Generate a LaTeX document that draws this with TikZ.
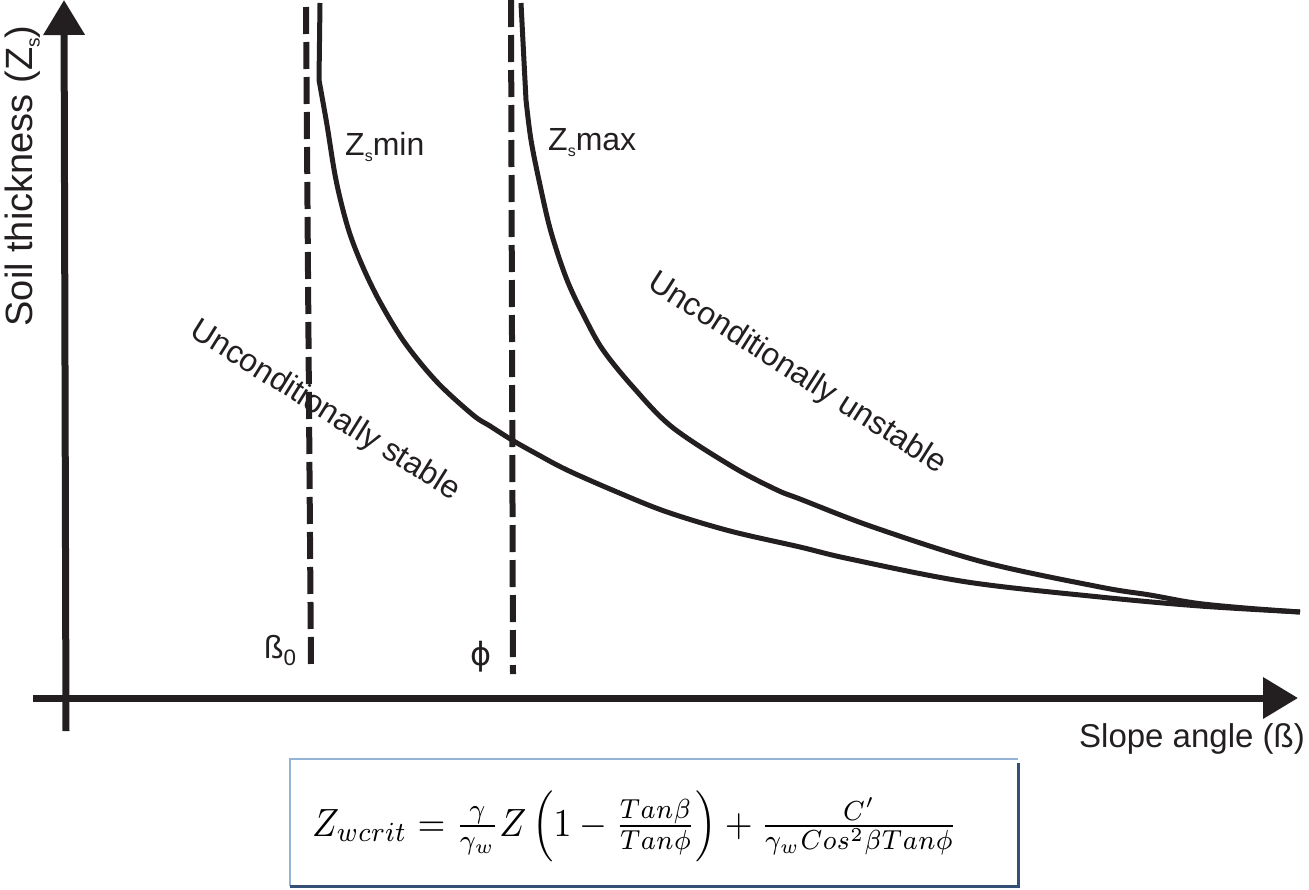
\documentclass[tikz,border=0pt]{standalone}
\usepackage{fontspec}
\setmainfont{Liberation Sans}
\newfontfamily\dvsans{DejaVu Sans}
\usepackage{amsmath}
\usepackage{graphicx}
\usetikzlibrary{arrows.meta}
\definecolor{ink}{RGB}{35,31,32}
\definecolor{boxlight}{RGB}{149,179,215}
\definecolor{boxdark}{RGB}{52,80,118}
\newcommand{\lowsub}[1]{\raisebox{-0.2em}{\scalebox{0.5}{#1}}}
\begin{document}
\begin{tikzpicture}[x=1pt,y=-1pt,
  axis/.style={line width=7pt, draw=ink, -{Triangle[length=35pt,width=40pt]}},
  limitline/.style={line width=6pt, draw=ink, dash pattern=on 27pt off 8pt},
  curveline/.style={line width=5pt, draw=ink, line join=round},
  lbl/.style={font=\fontsize{32}{38}\selectfont, inner sep=0pt, text=ink},
  biglbl/.style={font=\fontsize{38}{44}\selectfont, inner sep=0pt, text=ink},
  axlbl/.style={font=\fontsize{33}{40}\selectfont, inner sep=0pt, text=ink}]
\useasboundingbox (0,0) rectangle (1309,889);

% axes
\coordinate (yb) at (66,731);
\coordinate (yt) at (64,0);
\coordinate (xl) at (33,698);
\coordinate (xr) at (1298,698);
\draw[axis] (yb) -- (yt);
\draw[axis] (xl) -- (xr);

% limit lines
\coordinate (b0t) at (306,7);
\coordinate (b0b) at (311,670);
\coordinate (pht) at (511,0);
\coordinate (phb) at (513,674);
\draw[limitline] (b0t) -- (b0b);
\draw[limitline] (pht) -- (phb);

% Zs min curve
\draw[curveline] (320,3) -- plot[smooth,tension=0.55] coordinates {
 (319,80) (327,125) (336,180) (348,228) (362,265) (380,302) (405,343)
 (437,382) (473,415) (490,426) (512,440) (535,453) (567,470) (617,492)
 (667,512) (730,531) (800,547) (850,559) (967,582) (1100,597) (1200,606) (1300,612)};

% Zs max curve
\draw[curveline] (521,3) -- plot[smooth,tension=0.55] coordinates {
 (526,100) (531,140) (540,185) (551,232) (567,280) (585,318) (603,350)
 (633,387) (672,427) (733,467) (777,490) (800,499) (873,527) (983,562)
 (1100,587) (1150,595) (1195,603) (1245,608) (1300,612)};

% labels
\node[lbl, anchor=base west] (zmin) at (345,155) {Z\lowsub{s}min};
\node[lbl, anchor=base west] (zmax) at (548,150) {Z\lowsub{s}max};
\node[lbl, anchor=base west] (beta0) at (264,658) {ß\textsubscript{0}};
\node[lbl, anchor=base] (phi) at (481,665) {\dvsans ϕ};
\node[lbl, rotate=-32] (stable) at (325,411) {Unconditionally stable};
\node[lbl, rotate=-32.5] (unstable) at (797,374) {Unconditionally unstable};
\node[biglbl, rotate=90, anchor=base] (ylab) at (32,176) {Soil thickness (Z\lowsub{s})};
\node[axlbl, anchor=base east] (xlab) at (1305,747) {Slope angle (ß)};

% formula box
\node[anchor=north west, inner sep=0pt, minimum width=728pt, minimum height=127pt] (box) at (290,759) {};
\draw[boxlight, line width=2pt] (box.south west) -- (box.north west) -- (box.north east);
\draw[boxdark, line width=2.5pt] ([yshift=-4pt]box.north east) -- (box.south east) -- (box.south west);
\node[anchor=base west, inner sep=0pt] (eq) at (312,836)
 {\resizebox{645pt}{!}{\scalebox{1}[1.1]{$Z_{wcrit} = \frac{\gamma}{\gamma_w} Z \left(1 - \frac{Tan\beta}{Tan\phi}\right) + \frac{C'}{\gamma_w Cos^2\beta Tan\phi}$}}};
\end{tikzpicture}
\end{document}
